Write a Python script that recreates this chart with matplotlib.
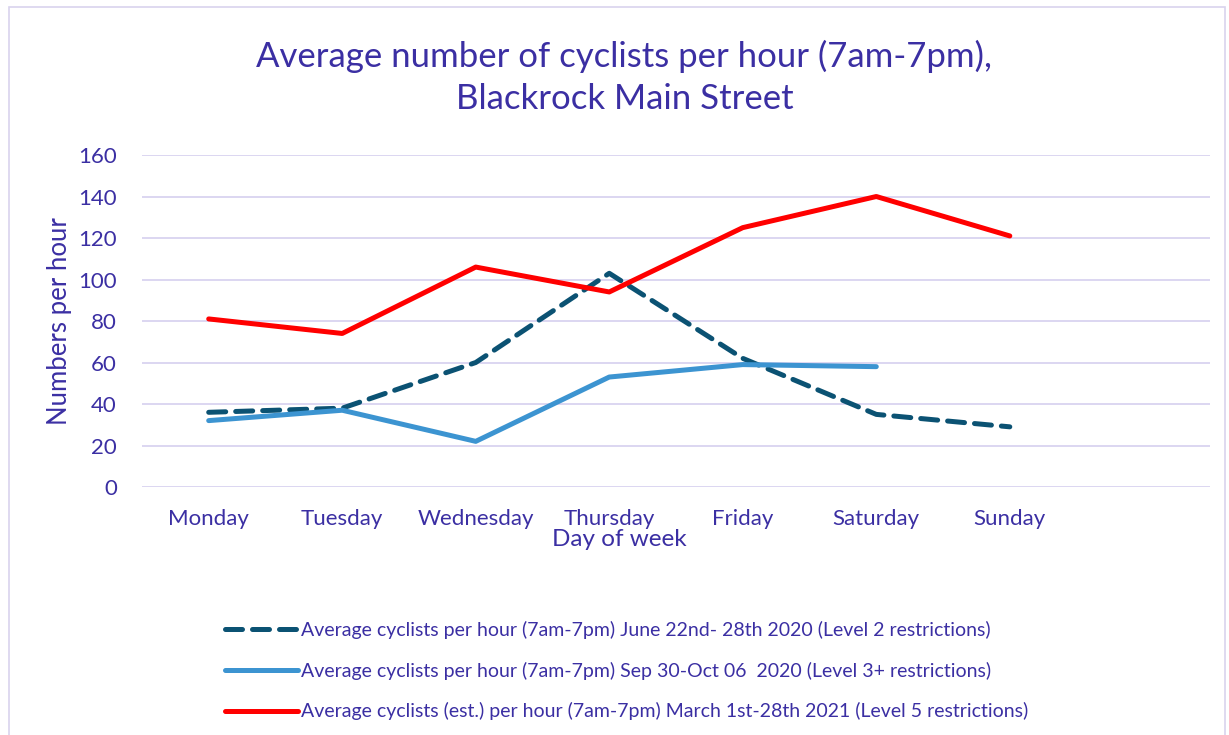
import matplotlib.pyplot as plt
from matplotlib.patches import Rectangle

days = ["Monday", "Tuesday", "Wednesday", "Thursday", "Friday", "Saturday", "Sunday"]
june_2020 = [36, 38, 60, 103, 62, 35, 29]
sep_oct_2020 = [32, 37, 22, 53, 59, 58]
march_2021 = [81, 74, 106, 94, 125, 140, 121]

labels = [
    "Average cyclists per hour (7am-7pm) June 22nd- 28th 2020 (Level 2 restrictions)",
    "Average cyclists per hour (7am-7pm) Sep 30-Oct 06  2020 (Level 3+ restrictions)",
    "Average cyclists (est.) per hour (7am-7pm) March 1st-28th 2021 (Level 5 restrictions)",
]

txt = "#3b2fa3"
plt.rcParams['font.family'] = ['Lato', 'DejaVu Sans']

fig = plt.figure(figsize=(12.29, 7.35), dpi=100)
fig.patches.append(Rectangle((0.007, -0.01), 0.99, 1.0, transform=fig.transFigure,
                             fill=False, edgecolor="#d9d3ee", lw=1.2))
ax = fig.add_axes([0.1155, 0.3374, 0.8691, 0.4517])

x = list(range(len(days)))
l1, = ax.plot(x, june_2020, color="#0b5273", lw=3.6, dashes=(3.4, 2.0),
              dash_capstyle="round", solid_capstyle="round")
l2, = ax.plot(x[:len(sep_oct_2020)], sep_oct_2020, color="#3c94d1", lw=3.6,
              solid_capstyle="round")
l3, = ax.plot(x, march_2021, color="#ff0000", lw=3.6, solid_capstyle="round")

ax.set_xlim(-0.5, 7.5)
ax.set_ylim(0, 160)
ax.set_yticks(range(0, 161, 20))
ax.set_xticks(x)
ax.set_xticklabels(days)
ax.grid(axis="y", color="#d6d0ef", lw=1.2)
ax.set_axisbelow(True)
for s in ax.spines.values():
    s.set_visible(False)
ax.tick_params(length=0, colors=txt, labelsize=16)
ax.tick_params(axis="x", pad=16)
ax.tick_params(axis="y", pad=18)

ax.set_ylabel("Numbers per hour", color=txt, fontsize=18.5)
ax.yaxis.set_label_coords(-0.077, 0.5)
ax.yaxis.label.set_va("center")
ax.set_xlabel("Day of week", color=txt, fontsize=17.5)
ax.xaxis.set_label_coords(0.447, -0.157)
ax.xaxis.label.set_va("center")

fig.text(0.508, 0.895, "Average number of cyclists per hour (7am-7pm),\nBlackrock Main Street",
         ha="center", va="center", color=txt, fontsize=25, linespacing=1.4)

leg = fig.legend([l1, l2, l3], labels, loc="upper left", bbox_to_anchor=(0.177, 0.166),
                 frameon=False, fontsize=14, handlelength=3.76, handletextpad=0.12,
                 labelspacing=1.17, borderaxespad=0)
for t in leg.get_texts():
    t.set_color(txt)

fig.savefig("out.png", dpi=100)
